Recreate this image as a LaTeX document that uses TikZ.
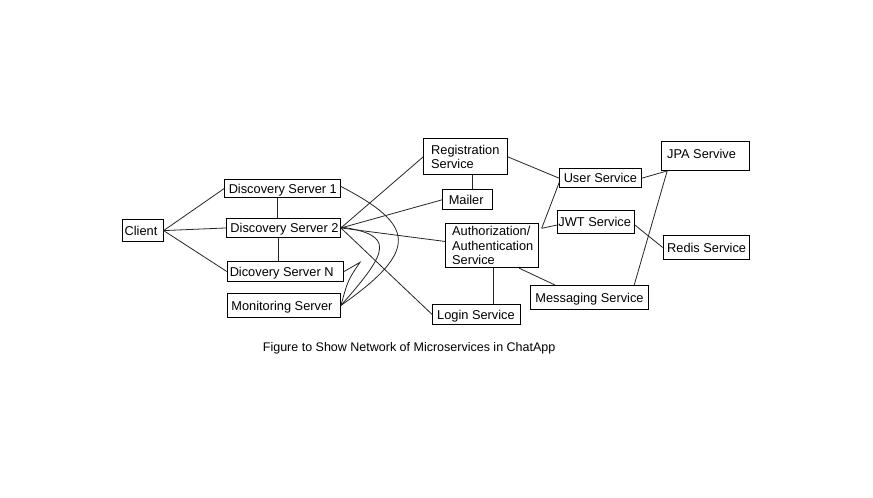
\documentclass[tikz,border=0pt]{standalone}
\usepackage{fontspec}
\setmainfont{Liberation Sans}
\tikzset{
  box/.style={draw=black, line width=0.9pt, inner sep=0pt, anchor=north west,
    font=\fontsize{12.8}{14.5}\selectfont},
  link/.style={draw=black!85, line width=0.8pt},
}
\newcommand\boxtext[4][-1.7]{\makebox[#2pt][l]{\hspace*{#3pt}\raisebox{#1pt}[\height][\depth]{\begin{tabular}{@{}l@{}}#4\end{tabular}}}}
\begin{document}
\begin{tikzpicture}[x=1pt,y=-1pt]
\fill[white] (0,0) rectangle (873,498);
\useasboundingbox (0,0) rectangle (873,498);

% boxes
\node[box, minimum width=41pt,    minimum height=21.7pt] (client) at (121.7,219.3) {\boxtext{41}{2.5}{Client}};
\node[box, minimum width=115.7pt, minimum height=17.4pt] (ds1) at (224.3,179.3) {\boxtext{115.7}{4}{Discovery Server 1}};
\node[box, minimum width=114pt,   minimum height=18.4pt] (ds2) at (226,218.3) {\boxtext{114}{4}{Discovery Server 2}};
\node[box, minimum width=116.6pt, minimum height=20pt]   (dsn) at (226.7,261) {\boxtext{116.6}{2.6}{Dicovery Server N}};
\node[box, minimum width=113.3pt, minimum height=23.4pt] (mon) at (226.7,293.3) {\boxtext{113.3}{4.3}{Monitoring Server}};
\node[box, minimum width=83.4pt,  minimum height=36pt]   (reg) at (423.3,138.3) {\boxtext{83.4}{7.4}{Registration\\Service}};
\node[box, minimum width=50pt,    minimum height=20pt]   (mail) at (442.3,189.3) {\boxtext{50}{6}{Mailer}};
\node[box, minimum width=93.3pt,  minimum height=44.6pt] (auth) at (445,222.7) {\boxtext{93.3}{6.7}{Authorization/\\Authentication\\Service}};
\node[box, minimum width=87.7pt,  minimum height=19.7pt] (login) at (432.3,304.3) {\boxtext{87.7}{4.4}{Login Service}};
\node[box, minimum width=81.4pt,  minimum height=19pt]   (user) at (559.3,168.3) {\boxtext{81.4}{4}{User Service}};
\node[box, minimum width=77.3pt,  minimum height=23.3pt] (jwt) at (556.7,210) {\boxtext{77.3}{1.3}{JWT Service}};
\node[box, minimum width=88.6pt,  minimum height=29pt]   (jpa) at (660.7,141) {\boxtext[0.5]{88.6}{6}{JPA Servive}};
\node[box, minimum width=86.6pt,  minimum height=23.4pt] (redis) at (662.7,235.3) {\boxtext{86.6}{4}{Redis Service}};
\node[box, minimum width=118.3pt, minimum height=24pt]   (msg) at (530,285) {\boxtext{118.3}{5}{Messaging Service}};

\node[inner sep=0pt, anchor=west, font=\fontsize{12.5}{15}\selectfont] (cap) at (262.7,348)
  {Figure to Show Network of Microservices in ChatApp};

% helper coordinates
\coordinate (aj) at ([shift={(2.5,5.6)}]auth.north east);
\coordinate (tip) at (360,262.3);
\coordinate (jpaL) at ([xshift=6.5pt]jpa.south west);

% client links
\draw[link] (client.east) -- (ds1.west);
\draw[link] (client.east) -- (ds2.west);
\draw[link] (client.east) -- (dsn.west);
\draw[link] ([xshift=-6pt]ds2.north) -- ([xshift=-6pt]ds2.north |- ds1.south);
\draw[link] ([xshift=-5pt]ds2.south) -- ([xshift=-5pt]ds2.south |- dsn.north);

% discovery server 2 links
\draw[link] (ds2.east) -- (reg.west);
\draw[link] (ds2.east) -- (mail.west);
\draw[link] (ds2.east) -- ([yshift=4pt]auth.west);
\draw[link] (ds2.east) -- (login.west);

% curves to monitoring server
\draw[link] ([yshift=2pt]ds1.east) .. controls (415,225) and (420,250) .. (mon.east);
\draw[link] ([yshift=1pt]ds2.east) .. controls (395,235) and (390,250) .. (mon.east);
\draw[link] (dsn.east) -- (tip) .. controls (348,280) .. (mon.east);

% right side
\draw[link] ([xshift=4.4pt]mail.north) -- ([xshift=4.4pt]mail.north |- reg.south);
\draw[link] (reg.east) -- (user.west);
\draw[link] (user.east) -- (jpaL);
\draw[link] ([xshift=-15pt]msg.north east) -- (jpaL);
\draw[link] ([yshift=-4pt]user.west) -- (aj);
\draw[link] ([yshift=-3pt]jwt.west) -- (aj);
\draw[link] ([yshift=-3pt]jwt.east) -- (redis.west);
\draw[link] ([xshift=-20pt]auth.south east) -- ([xshift=25pt]msg.north west);
\draw[link] ([xshift=1pt]auth.south) -- ([xshift=1pt]auth.south |- login.north);
\end{tikzpicture}
\end{document}
